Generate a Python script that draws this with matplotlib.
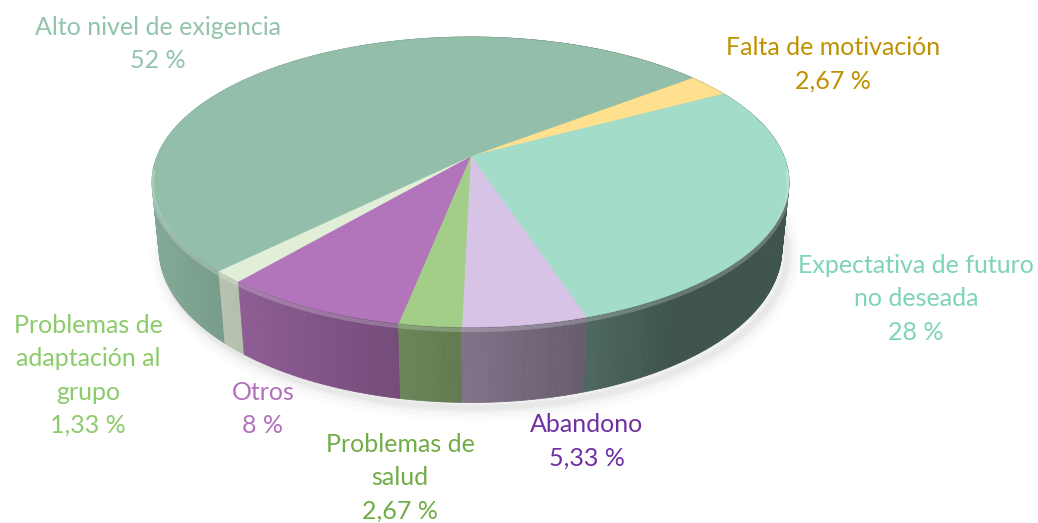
import numpy as np
import matplotlib.pyplot as plt
from matplotlib.patches import Polygon
from matplotlib.colors import to_rgb

plt.rcParams['font.family'] = ['Lato', 'DejaVu Sans']

# slices in clockwise order, starting at the top right
labels = ['Falta de motivación', 'Expectativa de futuro\nno deseada', 'Abandono',
          'Problemas de\nsalud', 'Otros', 'Problemas de\nadaptación al\ngrupo',
          'Alto nivel de exigencia']
values = [2.67, 28, 5.33, 2.67, 8, 1.33, 52]
value_text = ['2,67 %', '28 %', '5,33 %', '2,67 %', '8 %', '1,33 %', '52 %']
face_colors = ['#FFE08F', '#A3DDC9', '#D7C3E6', '#A3CE88', '#B274BA', '#E1EED8', '#93BFAA']
label_colors = ['#BF9000', '#7ED4B6', '#7030A0', '#70AD47', '#B270BE', '#8CCB6A', '#93C3AB']
# x centre and first baseline of each label (pixels)
label_xy = [(833, 55), (916, 273), (587, 432), (400, 452), (263, 400), (88, 333), (158, 35)]
line_step = 33.3

# 3d look
elev = np.radians(27)
dist = 5.0
thick = 0.245
start = 38.3
box = (152, 789, 37, 327)   # top face extent in pixels


def project(X, Y, Z):
    ry = Y + dist * np.cos(elev)
    rz = Z - dist * np.sin(elev)
    yc = ry * np.sin(elev) + rz * np.cos(elev)
    zc = ry * np.cos(elev) - rz * np.sin(elev)
    return X / zc, yc / zc


tt = np.radians(np.linspace(0, 360, 721))
u0, v0 = project(np.cos(tt), np.sin(tt), 0 * tt)
umin, umax, vmin, vmax = u0.min(), u0.max(), v0.min(), v0.max()


def to_px(th, z=0.0, r=1.0):
    th = np.radians(th)
    u, v = project(r * np.cos(th), r * np.sin(th), z + 0 * th)
    px = box[0] + (u - umin) / (umax - umin) * (box[1] - box[0])
    py = box[2] + (vmax - v) / (vmax - vmin) * (box[3] - box[2])
    return px, py


def shade(th):
    # light coming from the front left
    return max(0.38, 0.524 + 0.362 * np.cos(th - np.radians(-170)))


bounds = start - 3.6 * np.concatenate([[0], np.cumsum(values)])

fig = plt.figure(figsize=(10.38, 5.23), dpi=100)
ax = fig.add_axes([0, 0, 1, 1])
ax.set_xlim(0, 1038)
ax.set_ylim(523, 0)
ax.axis('off')

# soft shadow
sx, sy = to_px(np.linspace(0, 360, 361), -thick)
for lw, a in [(20, 0.025), (14, 0.035), (8, 0.05), (4, 0.07)]:
    ax.add_patch(Polygon(np.c_[sx + 5, sy + 5], closed=True, facecolor='none',
                         edgecolor='#808080', alpha=a, lw=lw, joinstyle='round'))

# side wall, drawn back to front
quads = []
for i in range(len(values)):
    a0, a1 = bounds[i], bounds[i + 1]
    steps = np.linspace(a0, a1, max(3, int(abs(a1 - a0)) + 1))
    for p, q in zip(steps[:-1], steps[1:]):
        quads.append((np.sin(np.radians((p + q) / 2)), p, q, i))
quads.sort(key=lambda k: -k[0])
for _, p, q, i in quads:
    col = np.clip(np.array(to_rgb(face_colors[i])) * shade(np.radians((p + q) / 2)), 0, 1)
    xt, yt = to_px(np.array([p, q]))
    xb, yb = to_px(np.array([q, p]), -thick)
    ax.add_patch(Polygon(np.c_[np.r_[xt, xb], np.r_[yt, yb]], closed=True,
                         facecolor=col, edgecolor=col, lw=0.6))

# highlight along the front top edge
hx, hy = to_px(np.linspace(185, 355, 200))
ax.plot(hx, hy + 3, color='white', alpha=0.22, lw=3, solid_capstyle='round')

# top face
cx, cy = to_px(np.array([0.0]), r=0.0)
for i in range(len(values)):
    th = np.linspace(bounds[i], bounds[i + 1], 120)
    x, y = to_px(th)
    ax.add_patch(Polygon(np.c_[np.r_[cx, x], np.r_[cy, y]], closed=True,
                         facecolor=face_colors[i], edgecolor=face_colors[i], lw=0.5))

# labels
for lab, val, col, (x, y) in zip(labels, value_text, label_colors, label_xy):
    for k, line in enumerate(lab.split('\n') + [val]):
        ax.text(x, y + k * line_step, line, ha='center', va='baseline',
                color=col, fontsize=18)

fig.savefig('out.png', dpi=100)
